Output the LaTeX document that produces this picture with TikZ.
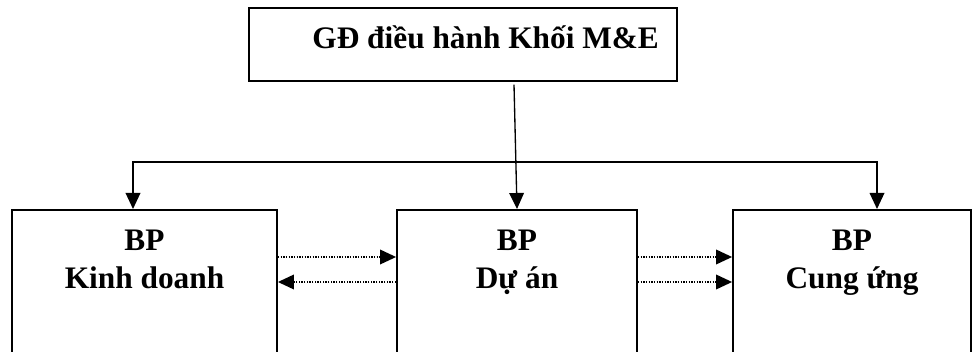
\documentclass[tikz,border=0pt]{standalone}
\usepackage{fontspec}
\setmainfont{Liberation Serif}
\usetikzlibrary{arrows.meta}

\begin{document}
\begin{tikzpicture}[
    x=0.75pt, y=-0.75pt,
    >={Triangle[length=12pt, width=11pt]},
    box/.style={draw, line width=1.4pt, inner sep=0pt, align=center, anchor=north,
      font=\fontsize{23.5}{28.5}\selectfont\bfseries},
    unit/.style={box, text height=59.25pt, text depth=61.5pt},
    arrow/.style={->, line width=1pt},
    dotarrow/.style={arrow, dash pattern=on 1pt off 1pt}
  ]
    \useasboundingbox (0,0) rectangle (973,352);
    \clip (0,0) rectangle (973,352);
    \node[box, minimum width=321pt, text height=30.75pt, text depth=24pt] (gd) at (463,7) {\hspace*{34pt}GĐ điều hành Khối M\&E};
    \node[unit, minimum width=198.75pt] (kd) at (144.5,209) {BP\\Kinh doanh};
    \node[unit, minimum width=180pt] (da) at (517,209) {BP\\Dự án};
    \node[unit, minimum width=178.5pt] (cu) at (852,209) {BP\\Cung ứng};
    \coordinate (busL) at (133,162);
    \coordinate (busR) at (877,162);
    \draw[arrow] ([xshift=38.25pt, yshift=-2pt]gd.south) -- (da.north);
    \draw[arrow, <->] (busL |- kd.north) -- (busL) -- (busR) -- (busR |- cu.north);
    \draw[dotarrow] ([yshift=-36pt]kd.north east) -- ([yshift=-36pt]da.north west);
    \draw[dotarrow] ([yshift=-54.75pt]da.north west) -- ([yshift=-54.75pt]kd.north east);
    \draw[dotarrow] ([yshift=-36pt]da.north east) -- ([yshift=-36pt]cu.north west);
    \draw[dotarrow] ([yshift=-54.75pt]da.north east) -- ([yshift=-54.75pt]cu.north west);
  \end{tikzpicture}
\end{document}
